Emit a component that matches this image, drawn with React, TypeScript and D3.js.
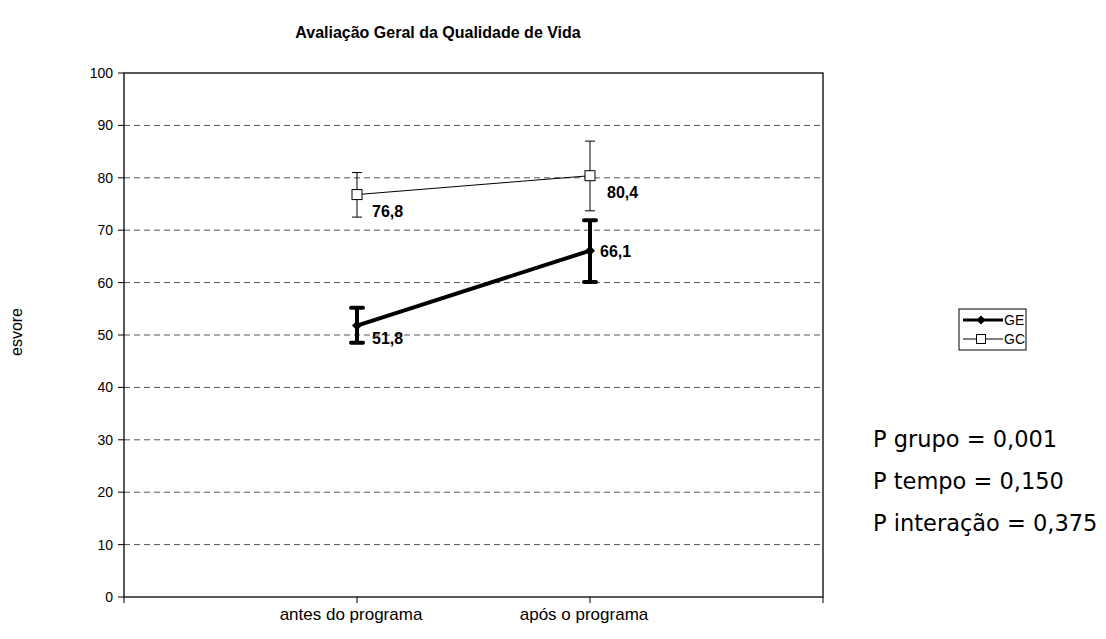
import React from "react";
import * as d3 from "d3";

const categories = ["", "antes do programa", "após o programa", " "];
const timeLabels = ["antes do programa", "após o programa"];
const geValues = [51.8, 66.1];
const geUpper = [55.2, 71.9];
const geLower = [48.5, 60.1];
const gcValues = [76.8, 80.4];
const gcUpper = [81.0, 87.0];
const gcLower = [72.5, 73.7];
const geLabels = ["51,8", "66,1"];
const gcLabels = ["76,8", "80,4"];
const yTicks = [0, 10, 20, 30, 40, 50, 60, 70, 80, 90, 100];
const pTexts = ["P grupo = 0,001", "P tempo = 0,150", "P interação = 0,375"];

export default function App() {
  const W = 1106, H = 639;
  const L = 124, R = 823, T = 73, B = 597;
  const x = d3.scalePoint<string>().domain(categories).range([L, R]);
  const y = d3.scaleLinear().domain([0, 100]).range([B, T]);
  const line = d3.line<number>().x((_, i) => x(timeLabels[i])!).y((d) => y(d));
  const font = "'Liberation Sans', Arial, sans-serif";
  return (
    <svg width={W} height={H} style={{ position: "absolute", left: 0, top: 0 }}>
      <rect width={W} height={H} fill="#fff" />
      <text x={438} y={38} textAnchor="middle" fontFamily={font} fontWeight="bold" fontSize={16}>
        Avaliação Geral da Qualidade de Vida
      </text>
      {yTicks.filter((t) => t > 0 && t < 100).map((t) => (
        <line key={t} x1={L} x2={R} y1={y(t)} y2={y(t)} stroke="#555" strokeDasharray="6,4" />
      ))}
      <rect x={L} y={T} width={R - L} height={B - T} fill="none" stroke="#000" strokeWidth={1.3} />
      {yTicks.map((t) => (
        <g key={t}>
          <line x1={L - 6} x2={L} y1={y(t)} y2={y(t)} stroke="#000" />
          <text x={L - 11} y={y(t) + 5} textAnchor="end" fontFamily={font} fontSize={14}>{t}</text>
        </g>
      ))}
      {categories.map((c, i) => (
        <line key={i} x1={x(c)!} x2={x(c)!} y1={B} y2={B + 6} stroke="#000" />
      ))}
      {timeLabels.map((c) => (
        <text key={c} x={x(c)! - 6} y={620} textAnchor="middle" fontFamily={font} fontSize={17}>{c}</text>
      ))}
      <text transform={`translate(22,332) rotate(-90)`} textAnchor="middle" fontFamily={font} fontSize={16}>esvore</text>

      {/* GC */}
      {timeLabels.map((c, i) => (
        <g key={"gce" + i}>
          <line x1={x(c)!} x2={x(c)!} y1={y(gcUpper[i])} y2={y(gcLower[i])} stroke="#000" />
          <line x1={x(c)! - 5} x2={x(c)! + 5} y1={y(gcUpper[i])} y2={y(gcUpper[i])} stroke="#000" />
          <line x1={x(c)! - 5} x2={x(c)! + 5} y1={y(gcLower[i])} y2={y(gcLower[i])} stroke="#000" />
        </g>
      ))}
      <path d={line(gcValues)!} fill="none" stroke="#000" strokeWidth={1} />
      {timeLabels.map((c, i) => (
        <rect key={"gcm" + i} x={x(c)! - 5} y={y(gcValues[i]) - 5} width={10} height={10} fill="#fff" stroke="#000" />
      ))}

      {/* GE */}
      {timeLabels.map((c, i) => (
        <g key={"gee" + i}>
          <line x1={x(c)!} x2={x(c)!} y1={y(geUpper[i])} y2={y(geLower[i])} stroke="#000" strokeWidth={4} />
          <line x1={x(c)! - 6} x2={x(c)! + 6} y1={y(geUpper[i])} y2={y(geUpper[i])} stroke="#000" strokeWidth={4} strokeLinecap="round" />
          <line x1={x(c)! - 6} x2={x(c)! + 6} y1={y(geLower[i])} y2={y(geLower[i])} stroke="#000" strokeWidth={4} strokeLinecap="round" />
        </g>
      ))}
      <path d={line(geValues)!} fill="none" stroke="#000" strokeWidth={4} />
      {timeLabels.map((c, i) => {
        const cx = x(c)!, cy = y(geValues[i]);
        return <path key={"gem" + i} d={`M${cx},${cy - 5}L${cx + 5},${cy}L${cx},${cy + 5}L${cx - 5},${cy}Z`} fill="#000" />;
      })}

      {/* data labels */}
      <text x={x(timeLabels[0])! + 15} y={y(gcValues[0]) + 22} fontFamily={font} fontWeight="bold" fontSize={16}>{gcLabels[0]}</text>
      <text x={x(timeLabels[1])! + 17} y={y(gcValues[1]) + 22} fontFamily={font} fontWeight="bold" fontSize={16}>{gcLabels[1]}</text>
      <text x={x(timeLabels[0])! + 15} y={y(geValues[0]) + 18} fontFamily={font} fontWeight="bold" fontSize={16}>{geLabels[0]}</text>
      <text x={x(timeLabels[1])! + 10} y={y(geValues[1]) + 6} fontFamily={font} fontWeight="bold" fontSize={16}>{geLabels[1]}</text>

      {/* legend */}
      <rect x={959} y={309} width={67} height={41} fill="#fff" stroke="#000" />
      <line x1={963} x2={1003} y1={320} y2={320} stroke="#000" strokeWidth={3} />
      <path d="M981,315.5L985.5,320L981,324.5L976.5,320Z" fill="#000" />
      <text x={1004} y={325} fontFamily={font} fontSize={14}>GE</text>
      <line x1={963} x2={1003} y1={339} y2={339} stroke="#000" />
      <rect x={976.5} y={334.5} width={9} height={9} fill="#fff" stroke="#000" />
      <text x={1004} y={344} fontFamily={font} fontSize={14}>GC</text>

      {pTexts.map((t, i) => (
        <text key={t} x={873} y={447 + i * 42} fontFamily="'DejaVu Sans', Verdana, sans-serif" fontSize={22.5}>{t}</text>
      ))}
    </svg>
  );
}
